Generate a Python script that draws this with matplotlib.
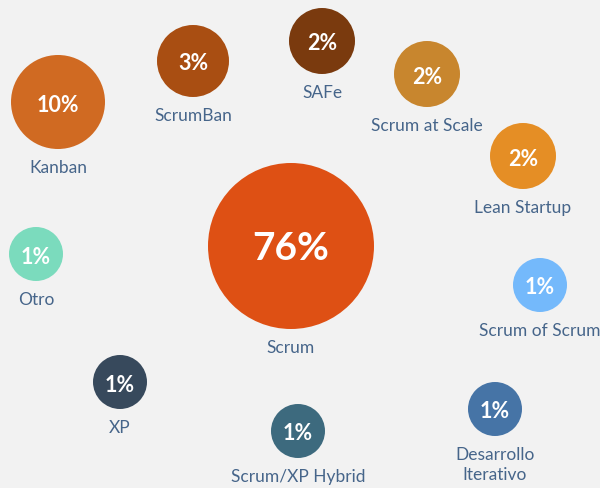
import matplotlib
matplotlib.use("Agg")
import matplotlib.pyplot as plt
from matplotlib.patches import Circle

categories = ["Kanban", "ScrumBan", "SAFe", "Scrum at Scale", "Lean Startup",
              "Scrum", "Otro", "XP", "Scrum/XP Hybrid", "Scrum of Scrum",
              "Desarrollo\nIterativo"]
values = [10, 3, 2, 2, 2, 76, 1, 1, 1, 1, 1]
# bubble layout (pixel coordinates of centres) and radii
x_pos = [58, 193, 322, 427, 523, 291, 36, 120, 298, 540, 495]
y_pos = [103, 62, 42, 75, 157, 247, 255, 383, 432, 286, 410]
radii = [47, 36, 33, 33, 33, 83, 27, 27, 27, 27, 27]
colors = ["#d06a22", "#a94e12", "#7a3a0e", "#c8862e", "#e58e25",
          "#de5014", "#7bdbbd", "#37495c", "#3d6a7e", "#74b9fb", "#4674a6"]

W, H = 600, 489
fig = plt.figure(figsize=(W / 100, H / 100), dpi=100)
fig.patch.set_facecolor("#f2f2f2")
ax = fig.add_axes([0, 0, 1, 1])
ax.set_facecolor("#f2f2f2")
ax.set_xlim(0, W)
ax.set_ylim(H, 0)
ax.set_aspect("equal")
ax.axis("off")

label_color = "#46658a"
for cat, v, x, y, r, c in zip(categories, values, x_pos, y_pos, radii, colors):
    ax.add_patch(Circle((x, y), r, facecolor=c, edgecolor="none"))
    fs = 28 if v >= 50 else 15.5
    ax.text(x, y + 2, f"{v}%", ha="center", va="center", color="white",
            fontsize=fs, fontweight="bold", family=["Lato", "DejaVu Sans"])
    ax.text(x, y + r + 10, cat, ha="center", va="top", color=label_color,
            fontsize=12.5, family=["Lato", "DejaVu Sans"], linespacing=1.3)

fig.savefig("out.png", dpi=100, facecolor=fig.get_facecolor())
